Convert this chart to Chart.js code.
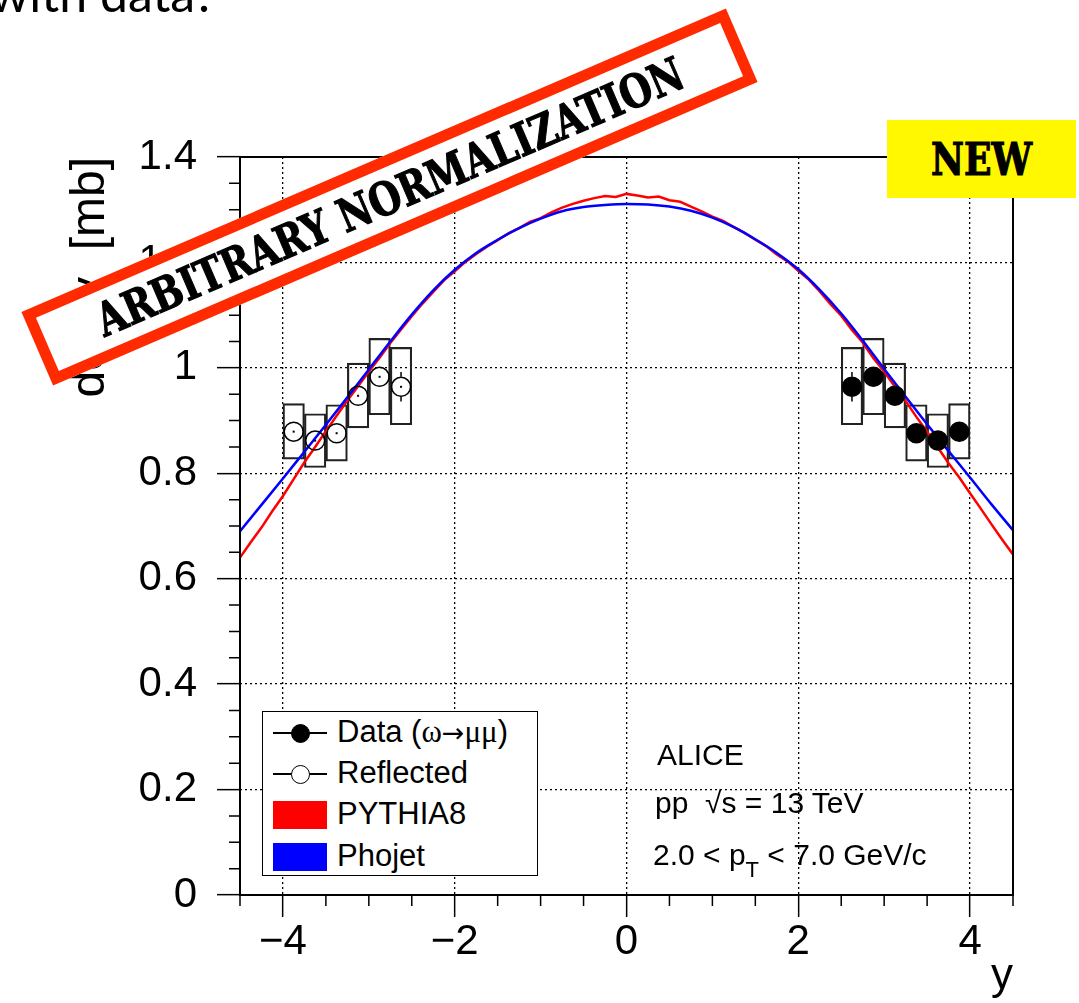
<!DOCTYPE html>
<html>
<head>
<meta charset="utf-8">
<script src="https://cdn.jsdelivr.net/npm/chart.js@4.4.1/dist/chart.umd.min.js"></script>
<style>
  html, body { margin: 0; padding: 0; background: #fff; overflow: hidden; }
  #wrap { position: relative; width: 1079px; height: 1003px; overflow: hidden; }
  #wrap canvas { position: absolute; left: 0; top: 0; }
  .txt { position: absolute; font-family: "Liberation Sans", Arial, sans-serif; color: #000; line-height: 1; white-space: nowrap; }
  .sym { font-family: "Liberation Serif", "DejaVu Serif", serif; }
  .arr { font-family: "DejaVu Sans", sans-serif; font-size: 27px; }
  #slide { position: absolute; left: -10px; top: -32px; font-family: Lato, "Open Sans", sans-serif; font-size: 50px; line-height: 1; color: #000; white-space: nowrap; }
  #legend { position: absolute; left: 262px; top: 711px; width: 276px; height: 165px; box-sizing: border-box;
            border: 1.5px solid #000; background: #fff; }
  .lline { position: absolute; height: 1.5px; background: #000; }
  .ldot { position: absolute; width: 19px; height: 19px; border-radius: 50%; box-sizing: border-box; border: 1.5px solid #000; }
  .lbox { position: absolute; width: 54px; height: 28px; }
  #stamp { position: absolute; left: 6px; top: 157px; width: 767px; height: 80px; box-sizing: border-box;
           border: 11px solid #ff2a00; background: #fff; transform: rotate(-23.3deg);
           display: flex; align-items: center; justify-content: center;
           font-family: "DejaVu Serif", serif; font-weight: bold; font-size: 46px; color: #000; white-space: nowrap; }
  #stamp span { display: inline-block; transform: scaleX(0.8); -webkit-text-stroke: 1.2px #000; letter-spacing: 0px; }
  #newbox { position: absolute; left: 887px; top: 120px; width: 189px; height: 78px; background: #fff800;
            display: flex; align-items: center; justify-content: center;
            font-family: "DejaVu Serif", serif; font-weight: bold; font-size: 44px; color: #000; }
  #newbox span { display: inline-block; transform: scaleX(0.82); -webkit-text-stroke: 1.2px #000; }
</style>
</head>
<body>
<div id="wrap">
  <canvas id="myChart"></canvas>
  <div id="slide">with data?</div>

  <div id="legend"></div>

  <div class="txt" style="left:657px; top:740px; font-size:30px;">ALICE</div>
  <div class="txt" style="left:655px; top:788px; font-size:30px;">pp &nbsp;√s = 13 TeV</div>
  <div class="txt" style="left:653px; top:840px; font-size:30px;">2.0 &lt; p<sub style="font-size:22px; vertical-align:-12px;">T</sub> &lt; 7.0 GeV/c</div>

  <div id="stamp"><span>ARBITRARY NORMALIZATION</span></div>
  <div id="newbox"><span>NEW</span></div>
</div>

<script>
// ALICE omega -> mu mu, forward rapidity, vs PYTHIA8 / Phojet
var dataRapidity = [2.625, 2.875, 3.125, 3.375, 3.625, 3.875];
var dataValue    = [0.964, 0.983, 0.947, 0.876, 0.862, 0.879];
var statErr      = [0.028, 0.016, 0.014, 0.012, 0.012, 0.012];
var sysLow       = [0.892, 0.911, 0.886, 0.823, 0.811, 0.827];
var sysHigh      = [1.039, 1.056, 1.009, 0.930, 0.913, 0.932];

var pythiaRapidity = [-4.5, -4.375, -4.25, -4.125, -4.0, -3.875, -3.75, -3.625, -3.5, -3.375, -3.25, -3.125,
                      -3.0, -2.875, -2.75, -2.625, -2.5, -2.375, -2.25, -2.125, -2.0, -1.875, -1.75, -1.625,
                      -1.5, -1.375, -1.25, -1.125, -1.0, -0.875, -0.75, -0.625, -0.5, -0.375, -0.25, -0.125,
                      0, 0.125, 0.25, 0.375, 0.5, 0.625, 0.75, 0.875, 1.0, 1.125, 1.25, 1.375,
                      1.5, 1.625, 1.75, 1.875, 2.0, 2.125, 2.25, 2.375, 2.5, 2.625, 2.75, 2.875,
                      3.0, 3.125, 3.25, 3.375, 3.5, 3.625, 3.75, 3.875, 4.0, 4.125, 4.25, 4.375, 4.5];
var pythia8 = [0.640, 0.669, 0.697, 0.728, 0.757, 0.789, 0.821, 0.850, 0.880, 0.909, 0.938, 0.965,
               0.993, 1.019, 1.047, 1.073, 1.098, 1.122, 1.144, 1.166, 1.183, 1.201, 1.216, 1.230,
               1.242, 1.255, 1.265, 1.277, 1.284, 1.295, 1.304, 1.311, 1.317, 1.322, 1.326, 1.324,
               1.330, 1.327, 1.323, 1.325, 1.318, 1.315, 1.306, 1.297, 1.287, 1.279, 1.267, 1.256,
               1.243, 1.231, 1.215, 1.202, 1.184, 1.167, 1.145, 1.121, 1.099, 1.072, 1.048, 1.018,
               0.993, 0.964, 0.937, 0.907, 0.879, 0.849, 0.819, 0.792, 0.762, 0.733, 0.703, 0.674, 0.646];

var phojetRapidity = [-4.5, -4.25, -4.0, -3.75, -3.5, -3.25, -3.0, -2.75, -2.5, -2.25, -2.0, -1.75, -1.5,
                      -1.25, -1.0, -0.75, -0.5, -0.25, 0, 0.25, 0.5, 0.75, 1.0, 1.25, 1.5,
                      1.75, 2.0, 2.25, 2.5, 2.75, 3.0, 3.25, 3.5, 3.75, 4.0, 4.25, 4.5];
var phojet = [0.690, 0.740, 0.790, 0.841, 0.892, 0.944, 0.997, 1.050, 1.101, 1.147, 1.186, 1.218, 1.243,
              1.265, 1.283, 1.297, 1.305, 1.309, 1.311, 1.310, 1.306, 1.298, 1.285, 1.267, 1.244,
              1.218, 1.187, 1.148, 1.103, 1.052, 0.998, 0.945, 0.893, 0.842, 0.792, 0.741, 0.692];

var xMajorTicks = [-4, -2, 0, 2, 4];
var yMajorTicks = [0, 0.2, 0.4, 0.6, 0.8, 1, 1.2, 1.4];

var reflRapidity = dataRapidity.map(function(v){ return -v; });

function isIn(list, v) {
  return list.some(function(t){ return Math.abs(t - v) < 1e-6; });
}

var legendRows = [
  {label: 'Data (<span class="sym">ω</span><span class="arr">→</span><span class="sym">μμ</span>)', kind: 'filled'},
  {label: 'Reflected', kind: 'open'},
  {label: 'PYTHIA8', kind: 'box', color: '#ff0000'},
  {label: 'Phojet', kind: 'box', color: '#0000ff'}
];

var legend = document.getElementById('legend');
legendRows.forEach(function(row, i){
  var cy = 21 + i * 41.2;
  if (row.kind === 'box') {
    var b = document.createElement('div');
    b.className = 'lbox';
    b.style.left = '10px'; b.style.top = (cy - 14) + 'px'; b.style.background = row.color;
    legend.appendChild(b);
  } else {
    var l = document.createElement('div');
    l.className = 'lline';
    l.style.left = '10px'; l.style.width = '54px'; l.style.top = (cy - 1) + 'px';
    legend.appendChild(l);
    var d = document.createElement('div');
    d.className = 'ldot';
    d.style.left = '28px'; d.style.top = (cy - 9.5) + 'px';
    d.style.background = row.kind === 'filled' ? '#000' : '#fff';
    legend.appendChild(d);
  }
  var t = document.createElement('div');
  t.className = 'txt';
  t.style.left = '74px'; t.style.top = (cy - 17) + 'px'; t.style.fontSize = '31px';
  t.innerHTML = row.label;
  legend.appendChild(t);
});

// ROOT-like frame, minor ticks and stat error bars
var rootFrame = {
  id: 'rootFrame',
  afterDatasetsDraw: function(chart) {
    var ctx = chart.ctx, xs = chart.scales.x, ys = chart.scales.y;
    var r = 10;
    ctx.save();
    ctx.strokeStyle = '#000';
    ctx.fillStyle = '#000';
    ctx.lineWidth = 1.5;
    function errBar(xv, v, e, open) {
      var px = xs.getPixelForValue(xv);
      var pc = ys.getPixelForValue(v);
      var pt = ys.getPixelForValue(v + e);
      var pb = ys.getPixelForValue(v - e);
      ctx.beginPath();
      if (pc - pt > r) { ctx.moveTo(px, pt); ctx.lineTo(px, pc - r); }
      if (pb - pc > r) { ctx.moveTo(px, pc + r); ctx.lineTo(px, pb); }
      ctx.stroke();
      if (open) { ctx.fillRect(px - 1, pc - 1, 2, 2); }
    }
    for (var i = 0; i < dataRapidity.length; i++) {
      errBar(dataRapidity[i], dataValue[i], statErr[i], false);
      errBar(reflRapidity[i], dataValue[i], statErr[i], true);
    }
    ctx.restore();
  },
  afterDraw: function(chart) {
    var ctx = chart.ctx, a = chart.chartArea, xs = chart.scales.x, ys = chart.scales.y;
    ctx.save();
    ctx.strokeStyle = '#000';
    ctx.lineWidth = 1.5;
    ctx.beginPath();
    xs.ticks.forEach(function(t){
      if (isIn(xMajorTicks, t.value)) return;
      var px = xs.getPixelForValue(t.value);
      ctx.moveTo(px, a.bottom); ctx.lineTo(px, a.bottom + 11);
    });
    ys.ticks.forEach(function(t){
      if (isIn(yMajorTicks, t.value)) return;
      var py = ys.getPixelForValue(t.value);
      ctx.moveTo(a.left - 11, py); ctx.lineTo(a.left, py);
    });
    ctx.stroke();
    ctx.lineWidth = 2;
    ctx.strokeRect(a.left, a.top, a.right - a.left, a.bottom - a.top);
    ctx.restore();
  }
};

var boxes = [];
for (var i = 0; i < dataRapidity.length; i++) {
  boxes.push({x: reflRapidity[i], y: [sysLow[i], sysHigh[i]]});
  boxes.push({x: dataRapidity[i], y: [sysLow[i], sysHigh[i]]});
}

var ctx = document.getElementById('myChart').getContext('2d');
var myChart = new Chart(ctx, {
  type: 'scatter',
  data: {
    datasets: [
      {
        label: 'Data',
        type: 'scatter',
        data: dataRapidity.map(function(x, i){ return {x: x, y: dataValue[i]}; }),
        pointRadius: 9.5,
        pointBackgroundColor: '#000',
        pointBorderColor: '#000',
        pointBorderWidth: 1.5,
        order: 0
      },
      {
        label: 'Reflected',
        type: 'scatter',
        data: reflRapidity.map(function(x, i){ return {x: x, y: dataValue[i]}; }),
        pointRadius: 9.5,
        pointBackgroundColor: 'rgba(0,0,0,0)',
        pointBorderColor: '#000',
        pointBorderWidth: 1.5,
        order: 1
      },
      {
        label: 'Phojet',
        type: 'line',
        data: phojetRapidity.map(function(x, i){ return {x: x, y: phojet[i]}; }),
        borderColor: '#0000ff',
        borderWidth: 2.5,
        pointRadius: 0,
        cubicInterpolationMode: 'monotone',
        fill: false,
        order: 2
      },
      {
        label: 'PYTHIA8',
        type: 'line',
        data: pythiaRapidity.map(function(x, i){ return {x: x, y: pythia8[i]}; }),
        borderColor: '#ff0000',
        borderWidth: 2.5,
        pointRadius: 0,
        tension: 0,
        fill: false,
        order: 3
      },
      {
        label: 'Systematics',
        type: 'bar',
        data: boxes,
        backgroundColor: 'rgba(0,0,0,0)',
        borderColor: '#222',
        borderWidth: 1.5,
        borderSkipped: false,
        barPercentage: 1,
        categoryPercentage: 1,
        grouped: false,
        order: 4
      }
    ]
  },
  options: {
    responsive: true,
    maintainAspectRatio: false,
    animation: false,
    events: [],
    layout: { padding: { left: 0, right: 66, top: 157, bottom: 0 } },
    plugins: { legend: { display: false }, tooltip: { enabled: false } },
    scales: {
      x: {
        type: 'linear',
        min: -4.5,
        max: 4.5,
        offset: false,
        afterFit: function(scale){ scale.height = 108; },
        ticks: {
          stepSize: 0.5,
          autoSkip: false,
          maxRotation: 0,
          padding: 0,
          color: '#000',
          font: { family: 'Liberation Sans', size: 42 },
          callback: function(v){
            if (!isIn(xMajorTicks, v)) return '';
            return v < 0 ? '\u2212' + Math.abs(v) : String(v);
          }
        },
        grid: {
          offset: false,
          lineWidth: 1.3,
          color: function(c){
            var v = c.tick ? c.tick.value : null;
            return (v !== null && isIn(xMajorTicks, v)) ? '#000' : 'rgba(0,0,0,0)';
          },
          tickLength: 22,
          tickWidth: 1.5,
          tickBorderDash: [30, 0],
          tickColor: function(c){
            var v = c.tick ? c.tick.value : null;
            return (v !== null && isIn(xMajorTicks, v)) ? '#000' : 'rgba(0,0,0,0)';
          }
        },
        border: { display: false, dash: [2, 3] },
        title: {
          display: true,
          text: 'y',
          align: 'end',
          color: '#000',
          font: { family: 'Liberation Sans', size: 44 },
          padding: { top: 0, bottom: 0 }
        }
      },
      y: {
        type: 'linear',
        min: 0,
        max: 1.4,
        afterFit: function(scale){ scale.width = 240; },
        ticks: {
          stepSize: 0.05,
          autoSkip: false,
          padding: 20,
          color: '#000',
          font: { family: 'Liberation Sans', size: 42 },
          callback: function(v){
            if (!isIn(yMajorTicks, v)) return '';
            if (Math.abs(v) < 1e-6) return '0';
            if (Math.abs(v - 1) < 1e-6) return '1';
            return v.toFixed(1);
          }
        },
        grid: {
          lineWidth: 1.3,
          color: function(c){
            var v = c.tick ? c.tick.value : null;
            return (v !== null && isIn(yMajorTicks, v) && v > 0.01 && v < 1.39) ? '#000' : 'rgba(0,0,0,0)';
          },
          tickLength: 23,
          tickWidth: 1.5,
          tickBorderDash: [30, 0],
          tickColor: function(c){
            var v = c.tick ? c.tick.value : null;
            return (v !== null && isIn(yMajorTicks, v)) ? '#000' : 'rgba(0,0,0,0)';
          }
        },
        border: { display: false, dash: [2, 3] },
        title: {
          display: true,
          text: 'd\u03c3/dy  [mb]',
          align: 'end',
          color: '#000',
          font: { family: 'Liberation Sans', size: 48 },
          padding: { top: 62, bottom: 0 }
        }
      }
    }
  },
  plugins: [rootFrame]
});
</script>
</body>
</html>
